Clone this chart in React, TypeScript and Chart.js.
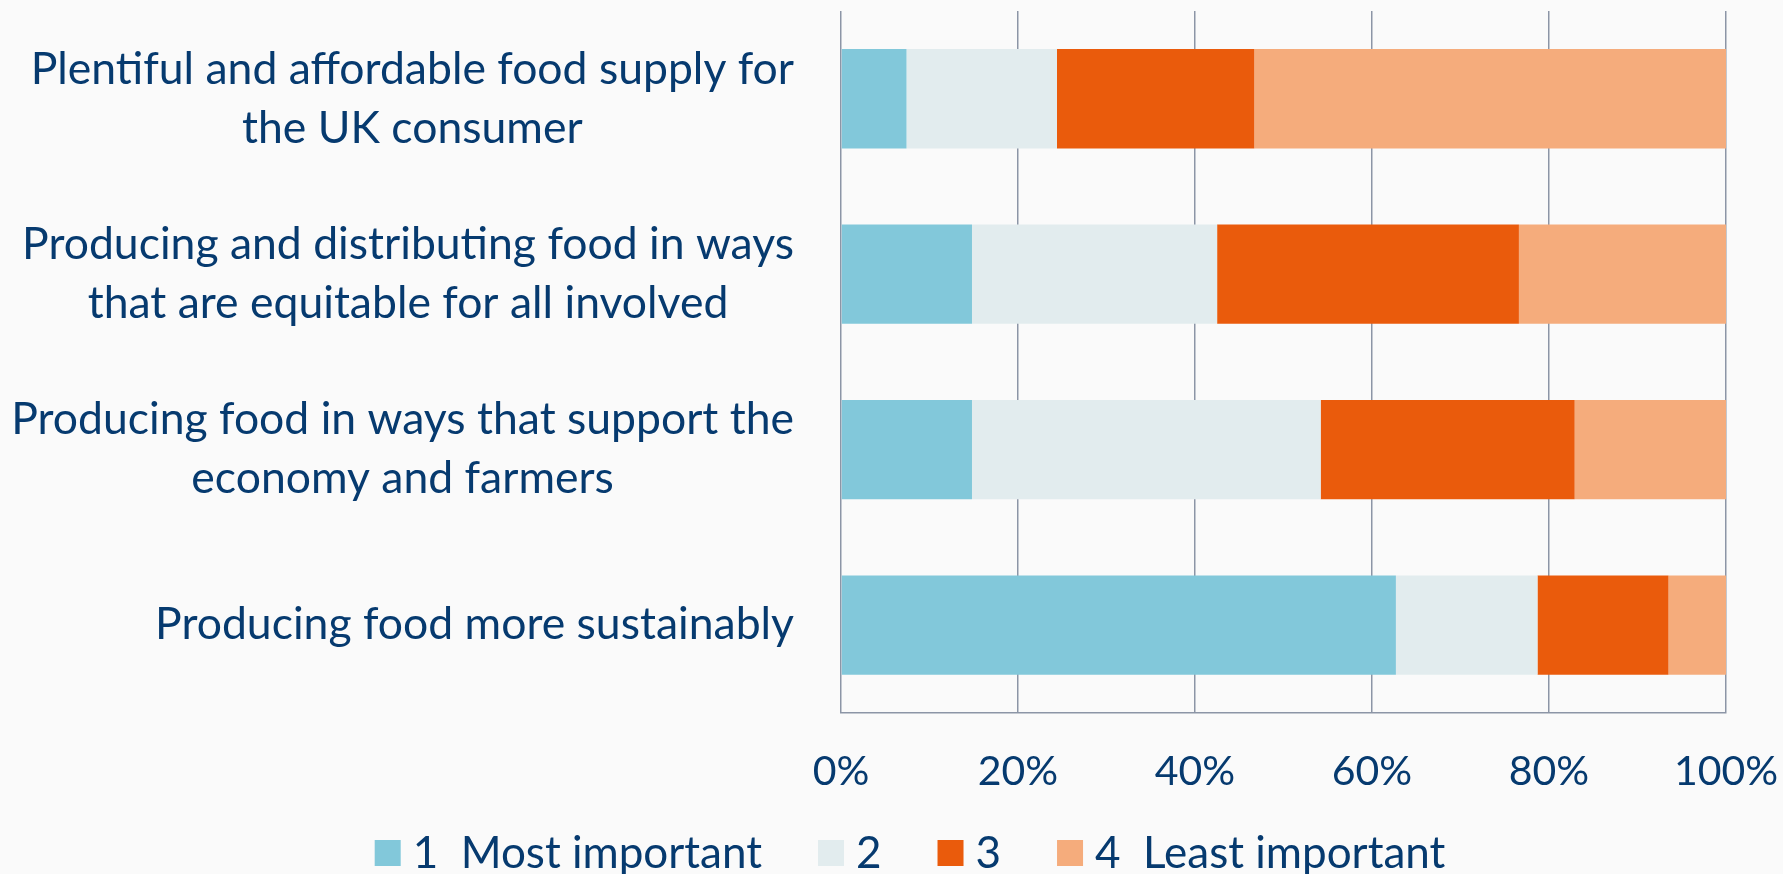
import React, { useEffect, useRef } from "react";
import { Chart, registerables } from "chart.js";

Chart.register(...registerables);

// ---- data ----
const categories: string[][] = [
  ["Plentiful and affordable food supply for", "the UK consumer"],
  ["Producing and distributing food in ways", "that are equitable for all involved"],
  ["Producing food in ways that support the", "economy and farmers"],
  ["Producing food more sustainably"],
];
const seriesLabels = ["1  Most important", "2", "3", "4  Least important"];
const rank1 = [7.4, 14.8, 14.8, 62.7];
const rank2 = [17.0, 27.7, 39.4, 16.0];
const rank3 = [22.3, 34.1, 28.7, 14.8];
const rank4 = [53.3, 23.4, 17.1, 6.5];
const xTickValues = [0, 20, 40, 60, 80, 100];

// ---- styles ----
const seriesColors = ["#82C8DA", "#E2ECEE", "#EA5B0C", "#F5AC7C"];
const TEXT = "#063A6F";
const GRID = "#8C95A6";
const BG = "#FAFAFA";
const FONT = "Lato, 'Open Sans', sans-serif";
const LABEL_FS = 44.5;
const LEGEND_FS = 44;
const TICK_FS = 41;

const bgPlugin = {
  id: "bg",
  beforeDraw(chart: any) {
    const ctx = chart.ctx;
    ctx.save();
    ctx.fillStyle = BG;
    ctx.fillRect(0, 0, chart.width, chart.height);
    ctx.restore();
  },
};

const yLabelPlugin = {
  id: "yLabels",
  afterDraw(chart: any) {
    const ctx = chart.ctx;
    const yScale = chart.scales.y;
    const area = chart.chartArea;
    ctx.save();
    ctx.font = `${LABEL_FS}px ${FONT}`;
    ctx.fillStyle = TEXT;
    ctx.textAlign = "center";
    ctx.textBaseline = "middle";
    const lineH = 59;
    categories.forEach((lines, i) => {
      const cy = yScale.getPixelForValue(i);
      const maxW = Math.max(...lines.map((l) => ctx.measureText(l).width));
      const cx = area.left - 47 - maxW / 2;
      const y0 = cy - ((lines.length - 1) * lineH) / 2;
      lines.forEach((l, j) => ctx.fillText(l, cx, y0 + j * lineH));
    });
    ctx.restore();
  },
};

const legendPlugin = {
  id: "customLegend",
  afterDraw(chart: any) {
    const ctx = chart.ctx;
    ctx.save();
    ctx.font = `${LEGEND_FS}px ${FONT}`;
    ctx.textBaseline = "middle";
    ctx.textAlign = "left";
    const box = 26;
    const boxGap = 12;
    const itemGap = 56;
    const widths = chart.data.datasets.map(
      (d: any) => box + boxGap + ctx.measureText(d.label).width
    );
    const total = widths.reduce((a: number, b: number) => a + b, 0) + itemGap * (widths.length - 1);
    let x = 910 - total / 2;
    const cy = 853;
    chart.data.datasets.forEach((d: any, i: number) => {
      ctx.fillStyle = d.backgroundColor;
      ctx.fillRect(x, cy - box / 2, box, box);
      ctx.fillStyle = TEXT;
      ctx.fillText(d.label, x + box + boxGap, cy + 1);
      x += widths[i] + itemGap;
    });
    ctx.restore();
  },
};

export default function App() {
  const ref = useRef<HTMLCanvasElement | null>(null);

  useEffect(() => {
    if (!ref.current) return;
    const series = [rank1, rank2, rank3, rank4];
    const chart = new Chart(ref.current, {
      type: "bar",
      data: {
        labels: categories.map((c) => c.join(" ")),
        datasets: series.map((vals, i) => ({
          label: seriesLabels[i],
          data: vals,
          backgroundColor: seriesColors[i],
          borderWidth: 0,
          barPercentage: 0.566,
          categoryPercentage: 1,
        })),
      },
      options: {
        indexAxis: "y",
        animation: false,
        responsive: false,
        maintainAspectRatio: false,
        layout: { padding: { left: 841, right: 57, top: 11, bottom: 44 } },
        plugins: {
          legend: { display: false },
          tooltip: { enabled: false },
        },
        scales: {
          x: {
            stacked: true,
            min: 0,
            max: 100,
            afterBuildTicks: (scale: any) => {
              scale.ticks = xTickValues.map((v) => ({ value: v }));
            },
            afterFit: (scale: any) => {
              scale.paddingLeft = 0;
              scale.paddingRight = 0;
            },
            grid: { color: GRID, lineWidth: 1.5, drawTicks: false },
            border: { color: GRID, width: 1.5 },
            ticks: {
              color: TEXT,
              font: { family: FONT, size: TICK_FS },
              padding: 34,
              callback: (v: any) => `${v}%`,
              maxRotation: 0,
            },
          },
          y: {
            stacked: true,
            display: false,
          },
        },
      },
      plugins: [bgPlugin, yLabelPlugin, legendPlugin],
    });
    return () => chart.destroy();
  }, []);

  return (
    <div style={{ position: "absolute", left: 0, top: 0, width: 1783, height: 874, background: BG }}>
      <canvas ref={ref} width={1783} height={874} style={{ display: "block" }} />
    </div>
  );
}
